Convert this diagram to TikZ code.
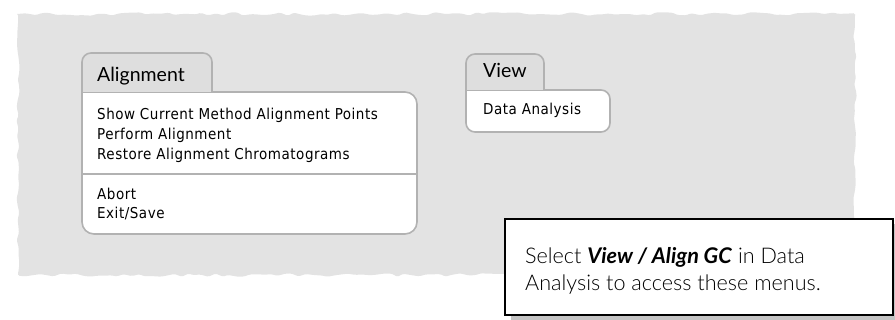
\documentclass[tikz,border=0pt]{standalone}
\usepackage{fontspec}
\setmainfont{Lato}
\newfontfamily\menufont{DejaVu Sans Condensed}[LetterSpace=3.5]
\newfontfamily\lightfont{Lato}[UprightFont=* Light, BoldItalicFont=* Bold Italic]
\usetikzlibrary{decorations.pathmorphing}

\definecolor{paper}{HTML}{E3E3E3}
\definecolor{tabgray}{HTML}{DEDEDE}
\definecolor{edgegray}{HTML}{B2B2B2}
\definecolor{shadowgray}{HTML}{C4C4C4}

\tikzset{
	menuline/.style = {draw=edgegray, line width=1.6pt},
	tablabel/.style = {anchor=base west, inner sep=0pt, font=\fontsize{19.5}{22}\selectfont},
	menuitem/.style = {anchor=base west, inner sep=0pt, font=\menufont\fontsize{15}{18}\selectfont},
	notetext/.style = {anchor=base west, inner sep=0pt, font=\lightfont\fontsize{21.6}{25}\selectfont}
}

\begin{document}
\begin{tikzpicture}[x=1pt, y=-1pt]
	\useasboundingbox (0,0) rectangle (895,320);
	\pgfmathsetseed{11}
	% torn paper
	\fill[paper, decorate, decoration={random steps, segment length=7pt, amplitude=1.8pt}, rounded corners=1.5pt] (18,14) rectangle (855,275);
	
	% Alignment menu
	\draw[menuline, fill=white] (82,92) [rounded corners=12pt] -- (82,234) -- (417,234) -- (417,92) [sharp corners] -- cycle;
	\draw[menuline, fill=tabgray] (82,92) [rounded corners=9pt] -- (82,53) -- (212,53) [sharp corners] -- (212,92);
	\draw[menuline] (82,174) -- (417,174);
	\node[tablabel] (align) at (97,82) {Alignment};
	\node[menuitem] (show) at (97,120) {Show Current Method Alignment Points};
	\node[menuitem] (perform) at (97,140) {Perform Alignment};
	\node[menuitem] (restore) at (97,160) {Restore Alignment Chromatograms};
	\node[menuitem] (abort) at (97,200) {Abort};
	\node[menuitem] (exit) at (97,219) {Exit/Save};
	
	% View menu
	\draw[menuline, fill=white] (466,90) [rounded corners=9pt] -- (466,132) -- (610,132) -- (610,90) [sharp corners] -- cycle;
	\draw[menuline, fill=tabgray] (466,90) [rounded corners=9pt] -- (466,54) -- (544,54) [sharp corners] -- (544,90);
	\node[tablabel] (view) at (483,78) {View};
	\node[menuitem] (data) at (483,115) {Data Analysis};
	
	% note
	\fill[shadowgray] (511,224) rectangle (899,321);
	\draw[line width=2pt, fill=white] (505,219) rectangle (893,315);
	\node[notetext] (note1) at (525,264) {Select \textbf{\textit{View / Align GC}} in Data};
	\node[notetext] (note2) at (525,291) {Analysis to access these menus.};
\end{tikzpicture}
\end{document}
